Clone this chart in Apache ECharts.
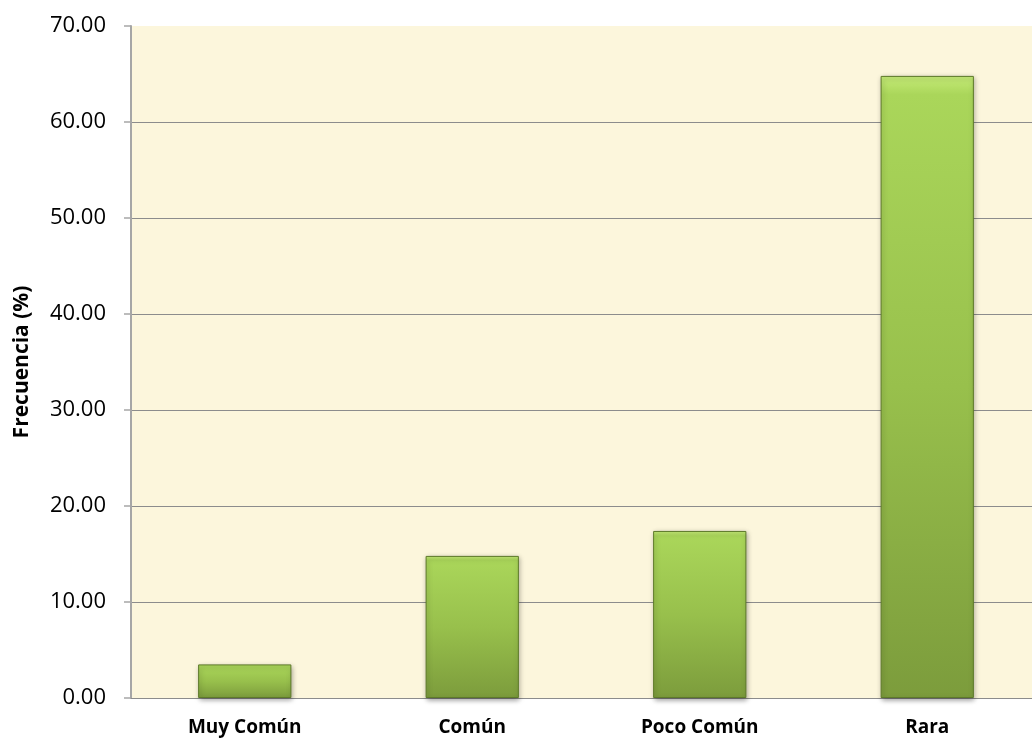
<!DOCTYPE html>
<html><head><meta charset="utf-8">
<script src="https://cdn.jsdelivr.net/npm/echarts@6/dist/echarts.min.js"></script>
<style>html,body{margin:0;padding:0;background:#fff;overflow:hidden;width:1032px;height:744px}#c{width:1041px;height:744px}</style>
</head><body><div id="c"></div>
<script>
const categories = ["Muy Común", "Común", "Poco Común", "Rara"];
const frecuencia = [3.5, 14.8, 17.4, 64.8];
const yTicks = { min: 0, max: 70, interval: 10 };

const FONT = 'Open Sans, Liberation Sans, sans-serif';
const chart = echarts.init(document.getElementById('c'));
chart.setOption({
  animation: false,
  grid: { left: 131, right: 0, top: 26, bottom: 46, show: true, backgroundColor: '#FCF6DC', borderWidth: 0 },
  xAxis: {
    type: 'category', data: categories,
    axisLine: { show: true, lineStyle: { color: '#8C8C8C', width: 1.2 } }, axisTick: { show: false },
    axisLabel: { fontFamily: FONT, fontWeight: 'bold', fontSize: 19, color: '#000', margin: 20 }
  },
  yAxis: {
    type: 'value', min: yTicks.min, max: yTicks.max, interval: yTicks.interval,
    name: 'Frecuencia (%)', nameLocation: 'middle', nameGap: 98,
    nameTextStyle: { fontFamily: FONT, fontWeight: 'bold', fontSize: 21, color: '#000' },
    axisLine: { show: true, lineStyle: { color: '#A6A6A6', width: 2 } },
    axisTick: { show: true, length: 7, lineStyle: { color: '#A6A6A6', width: 1.5 } },
    splitLine: { showMaxLine: false, lineStyle: { color: '#8C8C8C', width: 1.2 } },
    axisLabel: { fontFamily: FONT, fontSize: 22, color: '#000', margin: 25,
      formatter: v => v.toFixed(2) }
  },
  series: [{
    type: 'bar', data: frecuencia, barWidth: '41%',
    itemStyle: {
      color: new echarts.graphic.LinearGradient(0, 0, 0, 1, [
        { offset: 0, color: '#C6EC78' },
        { offset: 0.03, color: '#AAD65A' },
        { offset: 0.5, color: '#98C04C' },
        { offset: 1, color: '#7C9C3C' }
      ]),
      borderColor: '#5E7A2A', borderWidth: 1,
      shadowColor: 'rgba(0,0,0,0.35)', shadowBlur: 5, shadowOffsetX: 1, shadowOffsetY: 2
    }
  }]
});
</script></body></html>
